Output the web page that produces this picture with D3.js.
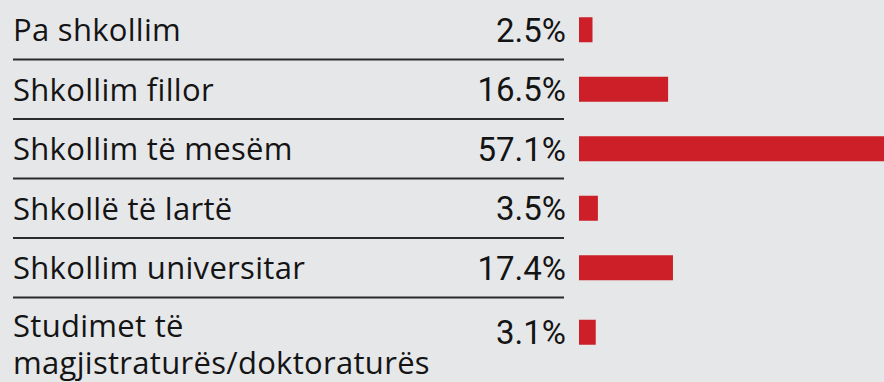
<!DOCTYPE html>
<html>
<head>
<meta charset="utf-8">
<script src="https://cdn.jsdelivr.net/npm/d3@7"></script>
<style>
  html, body { margin: 0; padding: 0; background: #e6e7e9; }
  svg { display: block; }
  text { fill: #141414; }
  .cat { font-family: "Open Sans", "Noto Sans", sans-serif; font-size: 31px; letter-spacing: 0.3px; }
  .val { font-family: Roboto, "Noto Sans", sans-serif; font-size: 33px; }
</style>
</head>
<body>
<svg id="chart" width="884" height="382"></svg>
<script>
// Education level shares (%)
const categories = [
  "Pa shkollim",
  "Shkollim fillor",
  "Shkollim të mesëm",
  "Shkollë të lartë",
  "Shkollim universitar",
  "Studimet të magjistraturës/doktoraturës"
];
const values = [2.5, 16.5, 57.1, 3.5, 17.4, 3.1];
const valueLabels = ["2.5%", "16.5%", "57.1%", "3.5%", "17.4%", "3.1%"];
// Long labels are broken onto two lines
const labelLines = [
  ["Pa shkollim"],
  ["Shkollim fillor"],
  ["Shkollim të mesëm"],
  ["Shkollë të lartë"],
  ["Shkollim universitar"],
  ["Studimet të", "magjistraturës/doktoraturës"]
];

const svg = d3.select("#chart");

const y = d3.scaleBand().domain(categories).range([0, 357]);
const x = d3.scaleLinear().domain([0, 60]).range([579, 579 + 324]);

const rows = categories.map((c, i) => ({ c, v: values[i], lab: valueLabels[i], lines: labelLines[i] }));
const multi = d => d.lines.length > 1;
const mid = d => y(d.c) + y.bandwidth() / 2 + (multi(d) ? 5 : 0);

// separator rules between rows
svg.append("g").selectAll("line")
  .data(categories.slice(0, -1))
  .join("line")
  .attr("x1", 13).attr("x2", 564)
  .attr("y1", d => y(d) + y.step()).attr("y2", d => y(d) + y.step())
  .attr("stroke", "#2b2b2b").attr("stroke-width", 2);

// bars
const barH = 25;
svg.append("g").selectAll("rect")
  .data(rows)
  .join("rect")
  .attr("x", x(0))
  .attr("y", d => mid(d) - barH / 2)
  .attr("width", d => x(d.v) - x(0))
  .attr("height", barH)
  .attr("fill", "#cc1f28");

// value labels
svg.append("g").selectAll("text")
  .data(rows)
  .join("text")
  .attr("class", "val")
  .attr("x", 566)
  .attr("y", d => mid(d) + 12)
  .attr("text-anchor", "end")
  .text(d => d.lab);

// category labels; the two-line label starts a little higher
const lab = svg.append("g").selectAll("text")
  .data(rows)
  .join("text")
  .attr("class", "cat")
  .attr("x", 13)
  .attr("y", d => mid(d) + (multi(d) ? 4.5 : 11.5));
lab.selectAll("tspan")
  .data(d => d.lines)
  .join("tspan")
  .attr("x", 13)
  .attr("dy", (d, i) => i === 0 ? 0 : 37)
  .text(d => d);
</script>
</body>
</html>
